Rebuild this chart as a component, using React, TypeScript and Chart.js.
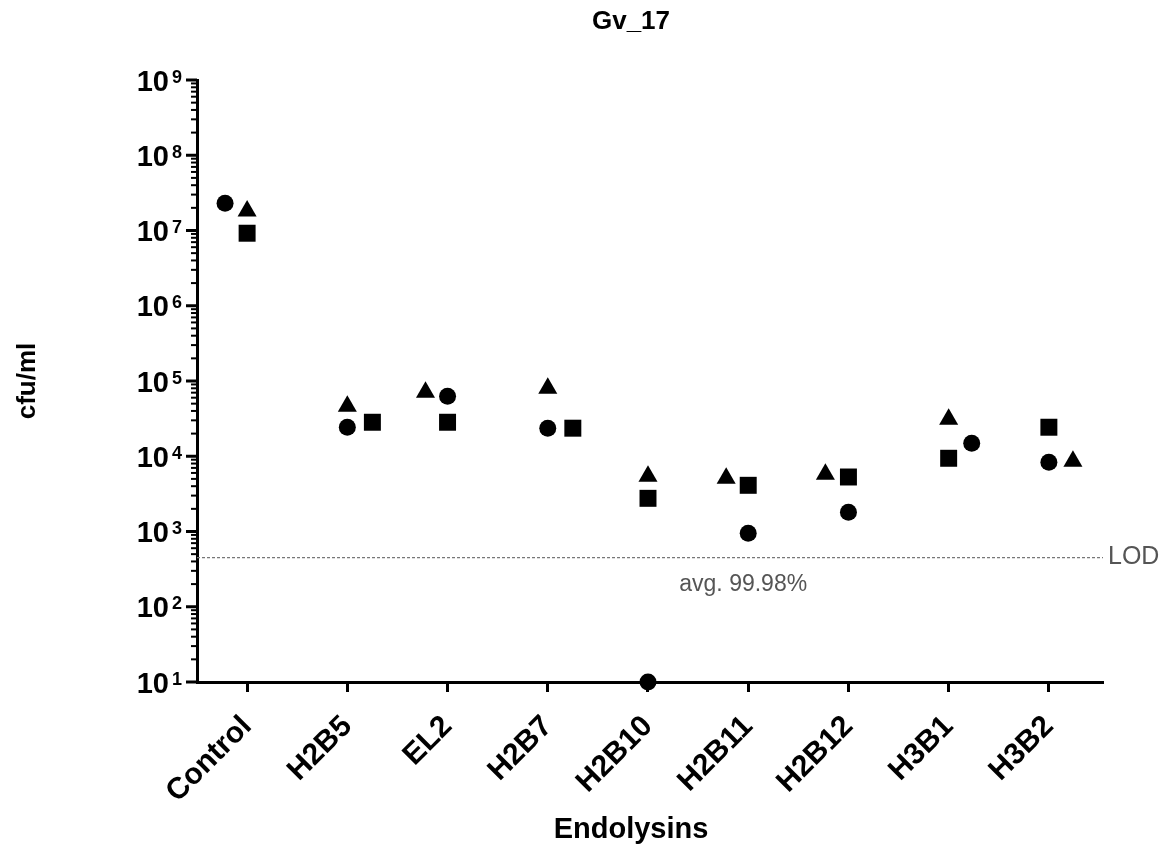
import React, { useEffect, useRef } from "react";
import { Chart, registerables } from "chart.js";

Chart.register(...registerables);

// ---- data ----
const categories = ["Control", "H2B5", "EL2", "H2B7", "H2B10", "H2B11", "H2B12", "H3B1", "H3B2"];
const circleValues = [2.31e7, 2.43e4, 6.28e4, 2.36e4, 10, 946, 1800, 1.49e4, 8320];
const squareValues = [9.2e6, 2.83e4, 2.83e4, 2.36e4, 2760, 4110, 5300, 9400, 2.43e4];
const triangleValues = [1.81e7, 4.62e4, 7.1e4, 8.0e4, 5420, 5100, 5770, 3.1e4, 8600];
// horizontal spread of replicate symbols inside each category (category units)
const circleJitter = [-0.22, 0, 0, 0, 0, 0, 0, 0.23, 0];
const squareJitter = [0, 0.25, 0, 0.25, 0, 0, 0, 0, 0];
const triangleJitter = [0, 0, -0.22, 0, 0, -0.22, -0.23, 0, 0.24];
const yExponents = [1, 2, 3, 4, 5, 6, 7, 8, 9];
const minorMultipliers = [2, 3, 4, 5, 6, 7, 8, 9];
const lodValue = 450;
const lodLabel = "LOD";
const avgLabel = "avg. 99.98%";
const chartTitle = "Gv_17";
const xTitle = "Endolysins";
const yTitle = "cfu/ml";

const FONT = "'Liberation Sans', Arial, sans-serif";

const decorPlugin = {
  id: "decor",
  beforeDatasetsDraw(chart: any) {
    const { ctx, chartArea, scales } = chart;
    const y = scales.y.getPixelForValue(lodValue);
    ctx.save();
    ctx.strokeStyle = "#777";
    ctx.lineWidth = 1.2;
    ctx.setLineDash([3, 2]);
    ctx.beginPath();
    ctx.moveTo(chartArea.left, y);
    ctx.lineTo(chartArea.right, y);
    ctx.stroke();
    ctx.restore();
  },
  afterDraw(chart: any) {
    const { ctx, chartArea, scales } = chart;
    const ys = scales.y;
    const xs = scales.x;
    const left = chartArea.left;
    ctx.save();
    ctx.fillStyle = "#000";
    ctx.strokeStyle = "#000";
    // y ticks
    yExponents.forEach((e) => {
      const py = ys.getPixelForValue(Math.pow(10, e));
      ctx.lineWidth = 3;
      ctx.beginPath();
      ctx.moveTo(left - 11, py);
      ctx.lineTo(left, py);
      ctx.stroke();
      if (e < yExponents[yExponents.length - 1]) {
        minorMultipliers.forEach((m) => {
          const pm = ys.getPixelForValue(m * Math.pow(10, e));
          ctx.lineWidth = 2;
          ctx.beginPath();
          ctx.moveTo(left - 6, pm);
          ctx.lineTo(left, pm);
          ctx.stroke();
        });
      }
      // label 10^e
      ctx.font = `bold 29px ${FONT}`;
      ctx.textAlign = "right";
      ctx.textBaseline = "alphabetic";
      ctx.fillText("10", left - 28, py + 10.5);
      ctx.font = `bold 18px ${FONT}`;
      ctx.textAlign = "left";
      ctx.fillText(String(e), left - 25, py + 2.5);
    });
    // chart title
    ctx.font = `bold 26px ${FONT}`;
    ctx.textAlign = "center";
    ctx.textBaseline = "alphabetic";
    ctx.fillText(chartTitle, 623, 21);
    // x title
    ctx.font = `bold 29px ${FONT}`;
    ctx.fillText(xTitle, 623, 830);
    // y title
    ctx.save();
    ctx.translate(27, (chartArea.top + chartArea.bottom) / 2);
    ctx.rotate(-Math.PI / 2);
    ctx.font = `bold 26px ${FONT}`;
    ctx.textAlign = "center";
    ctx.fillText(yTitle, 0, 0);
    ctx.restore();
    // LOD and avg labels
    const lodY = ys.getPixelForValue(lodValue);
    ctx.fillStyle = "#555";
    ctx.font = `25px ${FONT}`;
    ctx.textAlign = "left";
    ctx.fillText(lodLabel, chartArea.right + 5, lodY + 6);
    ctx.font = `23px ${FONT}`;
    ctx.textAlign = "center";
    ctx.fillText(avgLabel, xs.getPixelForValue(4.95), lodY + 33);
    ctx.restore();
  },
};

function pts(values: number[], jitter: number[]) {
  return values.map((v, i) => ({ x: i + jitter[i], y: v }));
}

export default function App() {
  const ref = useRef<HTMLCanvasElement | null>(null);
  useEffect(() => {
    if (!ref.current) return;
    const common = {
      backgroundColor: "#000",
      borderColor: "#000",
      borderWidth: 0,
      showLine: false,
      clip: false as any,
    };
    const chart = new Chart(ref.current, {
      type: "scatter",
      data: {
        datasets: [
          { ...common, label: "circle", data: pts(circleValues, circleJitter), pointStyle: "circle", pointRadius: 8.5 },
          { ...common, label: "square", data: pts(squareValues, squareJitter), pointStyle: "rect", pointRadius: 12 },
          { ...common, label: "triangle", data: pts(triangleValues, triangleJitter), pointStyle: "triangle", pointRadius: 11 },
        ],
      },
      options: {
        responsive: false,
        animation: false,
        events: [],
        layout: { padding: { left: 0, right: 56, top: 72, bottom: 0 } },
        plugins: { legend: { display: false }, tooltip: { enabled: false }, title: { display: false } },
        scales: {
          x: {
            type: "linear",
            min: -0.5,
            max: 8.54,
            afterBuildTicks: (s: any) => {
              s.ticks = categories.map((_, i) => ({ value: i }));
            },
            afterFit: (s: any) => {
              s.height = 163;
            },
            grid: { display: true, drawOnChartArea: false, drawTicks: true, tickLength: 10, tickWidth: 3, tickColor: "#000" },
            border: { display: true, color: "#000", width: 3 },
            ticks: {
              autoSkip: false,
              minRotation: 45,
              maxRotation: 45,
              padding: 17,
              color: "#000",
              font: { family: FONT, weight: "bold", size: 30 },
              callback: (v: any) => categories[Math.round(v)] ?? "",
            },
          },
          y: {
            type: "logarithmic",
            min: 10,
            max: 1e9,
            afterFit: (s: any) => {
              s.width = 189;
            },
            grid: { display: false },
            border: { display: true, color: "#000", width: 3 },
            ticks: { display: false },
          },
        },
      },
      plugins: [decorPlugin],
    });
    return () => chart.destroy();
  }, []);
  return (
    <div style={{ width: 1151, height: 837 }}>
      <canvas ref={ref} width={1151} height={837} style={{ display: "block" }} />
    </div>
  );
}
